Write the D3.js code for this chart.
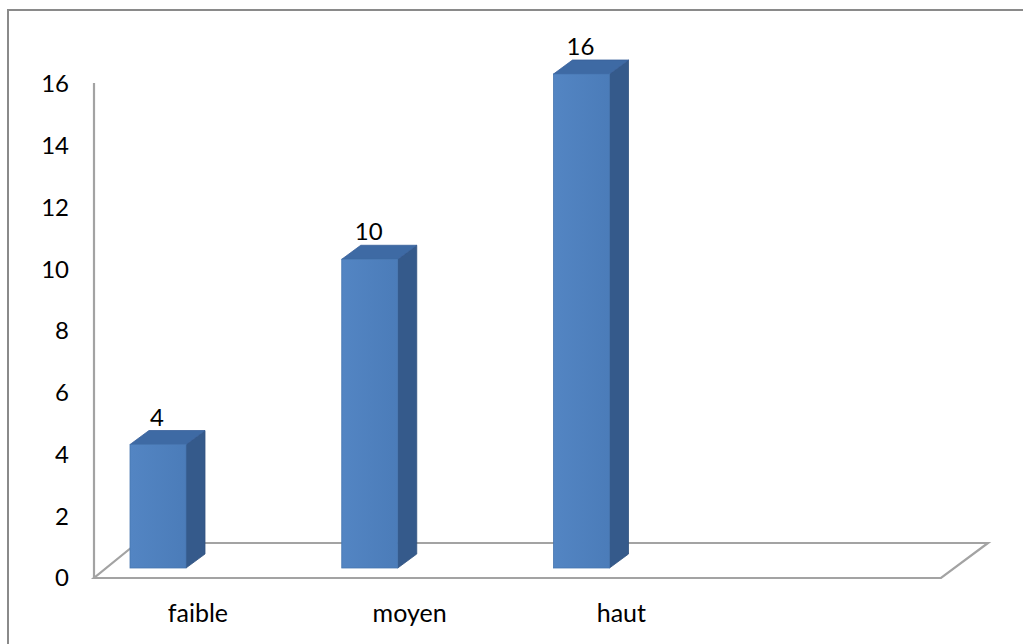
<!DOCTYPE html>
<html>
<head>
<meta charset="utf-8">
<script src="https://cdn.jsdelivr.net/npm/d3@7"></script>
<style>
  html, body { margin: 0; padding: 0; background: #fff; }
  svg { display: block; }
  text { font-family: Lato, "Open Sans", sans-serif; fill: #000; }
</style>
</head>
<body>
<svg id="chart" width="1023" height="644"></svg>
<script>
// Niveaux et effectifs
const categories = ["faible", "moyen", "haut"];
const values = [4, 10, 16];
const tickValues = [0, 2, 4, 6, 8, 10, 12, 14, 16];
// extra empty slot on the category axis (the floor runs past the last bar)
const slots = [...categories, ""];

const W = 1023, H = 644;
const svg = d3.select("#chart");

// outer frame (runs off the right and bottom edges)
svg.append("rect")
  .attr("x", 8).attr("y", 10)
  .attr("width", W + 20).attr("height", H + 20)
  .attr("fill", "none").attr("stroke", "#8a8a8a").attr("stroke-width", 2);

const x = d3.scaleBand().domain(slots).range([94, 941]).paddingInner(0).paddingOuter(0);
const y = d3.scaleLinear().domain([0, 16]).range([578, 84]);

// 3D geometry
const floorBackDxL = 43, floorBackDxR = 47, floorDy = -35;
const barInset = 36, barW = 56;
const barBaseShift = -10;          // bars sit part-way back on the floor
const depthDx = 19, depthDy = -14; // bar depth

const gray = "#a3a3a3";

// floor (parallelogram)
const x0 = x.range()[0], x1 = x.range()[1], y0 = y(0);
svg.append("path")
  .attr("d", `M${x0},${y0} L${x1},${y0} L${x1 + floorBackDxR},${y0 + floorDy} L${x0 + floorBackDxL},${y0 + floorDy} Z`)
  .attr("fill", "#fff").attr("stroke", gray).attr("stroke-width", 2.2)
  .attr("stroke-linejoin", "miter");

// vertical value axis line
svg.append("line")
  .attr("x1", x0).attr("x2", x0)
  .attr("y1", y(0)).attr("y2", y(16) - 1)
  .attr("stroke", gray).attr("stroke-width", 2.2);

// tick labels
svg.append("g").selectAll("text")
  .data(tickValues).join("text")
  .attr("x", 69)
  .attr("y", d => y(d))
  .attr("dy", "0.35em")
  .attr("text-anchor", "end")
  .attr("font-size", 24)
  .text(d => d);

// bars
const data = categories.map((c, i) => ({ c, v: values[i] }));
const bars = svg.append("g").selectAll("g").data(data).join("g");

const frontX = d => x(d.c) + barInset;
const baseY = () => y(0) + barBaseShift;
const topY = d => y(d.v) + barBaseShift;

// side face
bars.append("path")
  .attr("d", d => {
    const r = frontX(d) + barW;
    return `M${r},${topY(d)} L${r + depthDx},${topY(d) + depthDy} L${r + depthDx},${baseY() + depthDy} L${r},${baseY()} Z`;
  })
  .attr("fill", "#355a8b").attr("stroke", "#30527f").attr("stroke-width", 0.8);

// top face
bars.append("path")
  .attr("d", d => {
    const l = frontX(d), r = l + barW, t = topY(d);
    return `M${l},${t} L${r},${t} L${r + depthDx},${t + depthDy} L${l + depthDx},${t + depthDy} Z`;
  })
  .attr("fill", "#3e6aa4").attr("stroke", "#38609a").attr("stroke-width", 0.8);

// front face
const grad = svg.append("defs").append("linearGradient")
  .attr("id", "front").attr("x1", 0).attr("x2", 1).attr("y1", 0).attr("y2", 0);
grad.append("stop").attr("offset", 0).attr("stop-color", "#5385c3");
grad.append("stop").attr("offset", 1).attr("stop-color", "#4b7cb9");

bars.append("rect")
  .attr("x", d => frontX(d))
  .attr("y", d => topY(d))
  .attr("width", barW)
  .attr("height", d => baseY() - topY(d))
  .attr("fill", "url(#front)").attr("stroke", "#4676b0").attr("stroke-width", 0.8);

// value labels
bars.append("text")
  .attr("x", d => frontX(d) + barW / 2 - 1)
  .attr("y", d => topY(d) + depthDy - 5)
  .attr("text-anchor", "middle")
  .attr("font-size", 24)
  .text(d => d.v);

// category labels
svg.append("g").selectAll("text")
  .data(slots).join("text")
  .attr("x", d => x(d) + x.bandwidth() / 2 - 2)
  .attr("y", 622)
  .attr("text-anchor", "middle")
  .attr("font-size", 25)
  .text(d => d);
</script>
</body>
</html>
